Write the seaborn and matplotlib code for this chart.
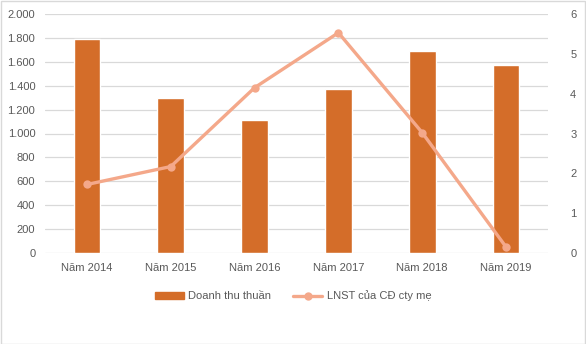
import matplotlib
matplotlib.use("Agg")
import matplotlib.pyplot as plt
import matplotlib.ticker as mticker
import seaborn as sns
import pandas as pd
from matplotlib.lines import Line2D
from matplotlib.patches import Patch

years = ["Năm 2014", "Năm 2015", "Năm 2016", "Năm 2017", "Năm 2018", "Năm 2019"]
revenue = [1790, 1295, 1115, 1375, 1690, 1570]
profit = [1.72, 2.17, 4.15, 5.53, 3.02, 0.15]
bar_label = "Doanh thu thuần"
line_label = "LNST của CĐ cty mẹ"

bar_color = "#D46D29"
line_color = "#F4A88A"
text_color = "#595959"

df = pd.DataFrame({"year": years, "revenue": revenue, "profit": profit})

sns.set_theme(style="white")
plt.rcParams["font.family"] = ["Liberation Sans", "DejaVu Sans"]

fig = plt.figure(figsize=(5.86, 3.44), dpi=100)
ax = fig.add_axes([45/586, 1-253/344, (548-45)/586, (253-14)/344])
sns.barplot(data=df, x="year", y="revenue", color=bar_color, width=0.32,
            saturation=1, ax=ax, zorder=2)
ax.set_ylim(0, 2000)
ax.set_yticks(range(0, 2001, 200))
ax.yaxis.set_major_formatter(mticker.FuncFormatter(lambda v, p: f"{int(v):,}".replace(",", ".")))
ax.grid(axis="y", color="#D9D9D9", linewidth=0.9, zorder=0)
ax.set_axisbelow(True)
for s in ax.spines.values():
    s.set_visible(False)
ax.set_xlabel("")
ax.set_ylabel("")
ax.tick_params(axis="both", length=0, labelsize=8, colors=text_color, pad=7)
ax.tick_params(axis="y", pad=7)
ax.set_xlim(-0.5, 5.5)

ax2 = ax.twinx()
sns.lineplot(data=df, x="year", y="profit", color=line_color, linewidth=2.4,
             marker="o", markersize=6, markeredgewidth=0, ax=ax2, zorder=3)
ax2.set_ylim(0, 6)
ax2.set_yticks(range(0, 7))
for s in ax2.spines.values():
    s.set_visible(False)
ax2.set_ylabel("")
ax2.set_xlabel("")
ax2.tick_params(axis="y", length=0, labelsize=8, colors=text_color, pad=16)
ax2.set_xlim(-0.5, 5.5)

handles = [Patch(color=bar_color, label=bar_label),
           Line2D([0], [0], color=line_color, lw=2.4, marker="o", markersize=6,
                  markeredgewidth=0, label=line_label)]
leg = fig.legend(handles=handles, loc="center", bbox_to_anchor=(0.5, 1-296/344),
                 ncol=2, frameon=False, fontsize=8, handlelength=2.6,
                 columnspacing=2.0, handletextpad=0.4)
for t in leg.get_texts():
    t.set_color(text_color)

fig.patches.append(plt.Rectangle((0.001, 0.001), 0.997, 0.997, transform=fig.transFigure,
                                 fill=False, edgecolor="#D9D9D9", linewidth=1))

fig.savefig("out.png", dpi=100, facecolor="white")
